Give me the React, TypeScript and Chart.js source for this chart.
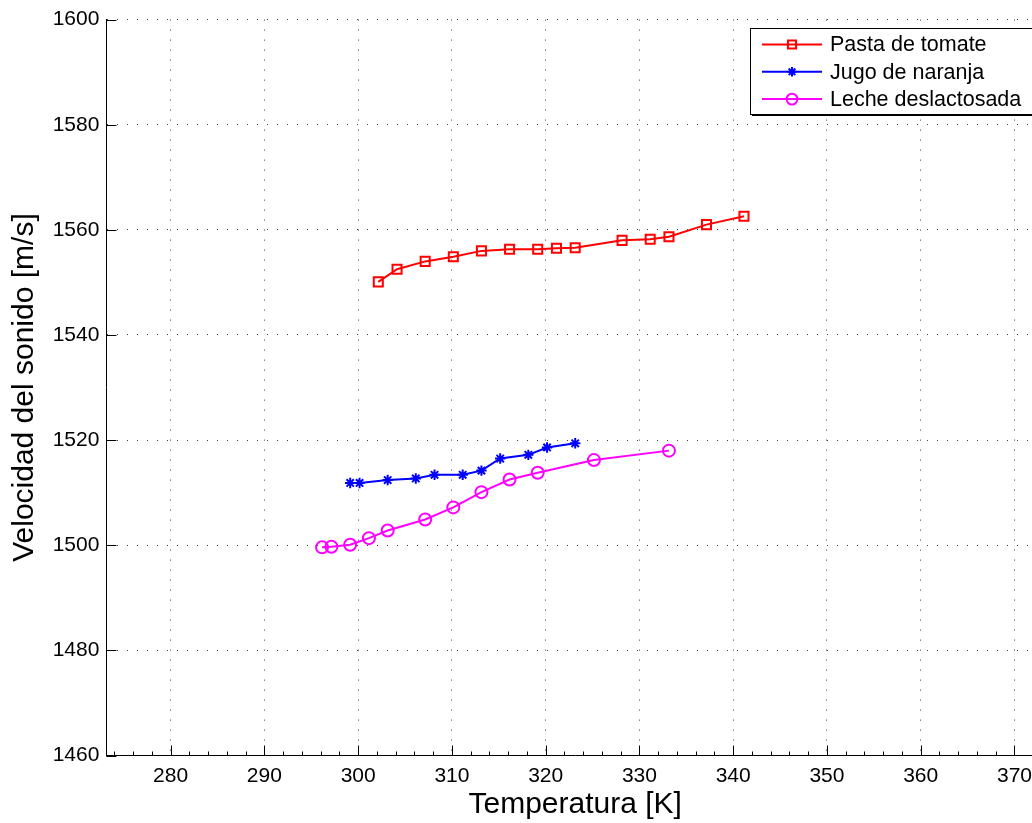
import React, { useEffect, useRef } from 'react';
import { Chart, registerables } from 'chart.js';
import { drawPoint } from 'chart.js/helpers';

Chart.register(...registerables);

const FONT = '"Liberation Sans", Arial, Helvetica, sans-serif';

// Tick values
const xTickValues = [280, 290, 300, 310, 320, 330, 340, 350, 360, 370];
const yTickValues = [1460, 1480, 1500, 1520, 1540, 1560, 1580, 1600];
const xMinorStep = 2;

// Series: Pasta de tomate
const pastaTemp = [302.15, 304.15, 307.15, 310.15, 313.15, 316.15, 319.15, 321.15, 323.15, 328.15, 331.15, 333.15, 337.15, 341.15];
const pastaVel = [1550.1, 1552.5, 1554.0, 1554.9, 1556.0, 1556.3, 1556.3, 1556.5, 1556.6, 1558.0, 1558.2, 1558.7, 1561.0, 1562.6];

// Series: Jugo de naranja
const jugoTemp = [299.15, 300.15, 303.15, 306.15, 308.15, 311.15, 313.15, 315.15, 318.15, 320.15, 323.15];
const jugoVel = [1511.85, 1511.85, 1512.4, 1512.7, 1513.4, 1513.4, 1514.2, 1516.5, 1517.2, 1518.6, 1519.4];

// Series: Leche deslactosada
const lecheTemp = [296.15, 297.15, 299.15, 301.15, 303.15, 307.15, 310.15, 313.15, 316.15, 319.15, 325.15, 333.15];
const lecheVel = [1499.6, 1499.7, 1500.1, 1501.35, 1502.8, 1504.9, 1507.2, 1510.1, 1512.5, 1513.8, 1516.2, 1518.0];

const seriesLabels = ['Pasta de tomate', 'Jugo de naranja', 'Leche deslactosada'];
const seriesColors = ['#ff0000', '#0000ff', '#ff00ff'];
const seriesMarkers = ['rect', 'star', 'circle'];
const seriesRadius = [6.4, 5.2, 6];

const xMin = 273.15;
const xMax = 373.15;
const yMin = 1460;
const yMax = 1600;

const toPoints = (xs: number[], ys: number[]) => xs.map((x, i) => ({ x, y: ys[i] }));

const ticksPlugin = {
  id: 'inwardTicks',
  afterDraw(chart: any) {
    const { ctx, chartArea } = chart;
    const { left, bottom, right } = chartArea;
    const xs = chart.scales.x;
    const ys = chart.scales.y;
    ctx.save();
    ctx.strokeStyle = '#000';
    ctx.lineWidth = 1;
    ctx.beginPath();
    xTickValues.forEach((v) => {
      const px = Math.round(xs.getPixelForValue(v)) + 0.5;
      ctx.moveTo(px, bottom);
      ctx.lineTo(px, bottom - 10);
    });
    for (let v = Math.ceil(xMin / xMinorStep) * xMinorStep; v <= xMax; v += xMinorStep) {
      if (v % 10 === 0) continue;
      const px = Math.round(xs.getPixelForValue(v)) + 0.5;
      if (px < left || px > right) continue;
      ctx.moveTo(px, bottom);
      ctx.lineTo(px, bottom - 4);
    }
    yTickValues.forEach((v) => {
      const py = Math.round(ys.getPixelForValue(v)) + 0.5;
      ctx.moveTo(left, py);
      ctx.lineTo(left + 10, py);
    });
    ctx.stroke();
    ctx.restore();
  },
};

const legendPlugin = {
  id: 'boxLegend',
  afterDraw(chart: any) {
    const ctx = chart.ctx;
    const x0 = 750;
    const y0 = 28;
    const w = 300;
    const h = 86;
    ctx.save();
    ctx.fillStyle = '#ffffff';
    ctx.fillRect(x0, y0, w, h);
    ctx.strokeStyle = '#000';
    ctx.lineWidth = 1;
    ctx.strokeRect(x0 + 0.5, y0 + 0.5, w, h);
    ctx.beginPath();
    ctx.moveTo(x0 + 2, y0 + h + 1.5);
    ctx.lineTo(x0 + w + 2, y0 + h + 1.5);
    ctx.stroke();
    chart.data.datasets.forEach((ds: any, i: number) => {
      const y = 44.5 + i * 27.3;
      ctx.strokeStyle = ds.borderColor;
      ctx.lineWidth = 2;
      ctx.setLineDash([]);
      ctx.beginPath();
      ctx.moveTo(762, y);
      ctx.lineTo(822, y);
      ctx.stroke();
      ctx.fillStyle = 'rgba(0,0,0,0)';
      ctx.strokeStyle = ds.borderColor;
      ctx.lineWidth = 2;
      drawPoint(ctx, { pointStyle: ds.pointStyle, radius: ds.pointRadius * 0.9, rotation: 0, borderWidth: 2 }, 792, y);
      ctx.fillStyle = '#000';
      ctx.font = `21.5px ${FONT}`;
      ctx.textAlign = 'left';
      ctx.textBaseline = 'middle';
      ctx.fillText(ds.label, 830, y + 1);
    });
    ctx.restore();
  },
};

export default function App() {
  const canvasRef = useRef<HTMLCanvasElement | null>(null);

  useEffect(() => {
    if (!canvasRef.current) return;
    const allSeries = [
      toPoints(pastaTemp, pastaVel),
      toPoints(jugoTemp, jugoVel),
      toPoints(lecheTemp, lecheVel),
    ];
    const chart = new Chart(canvasRef.current, {
      type: 'line',
      data: {
        datasets: allSeries.map((pts, i) => ({
          label: seriesLabels[i],
          data: pts,
          borderColor: seriesColors[i],
          backgroundColor: 'rgba(0,0,0,0)',
          borderWidth: 2,
          pointStyle: seriesMarkers[i] as any,
          pointRadius: seriesRadius[i],
          pointBorderWidth: 2,
          pointBorderColor: seriesColors[i],
          pointBackgroundColor: 'rgba(0,0,0,0)',
          tension: 0,
          fill: false,
        })),
      },
      options: {
        responsive: false,
        animation: false,
        events: [],
        layout: { padding: { top: 17.3, right: 16, left: 0, bottom: 0 } },
        plugins: {
          legend: { display: false },
          tooltip: { enabled: false },
        },
        scales: {
          x: {
            type: 'linear',
            min: xMin,
            max: xMax,
            afterBuildTicks: (scale: any) => {
              scale.ticks = xTickValues.map((v) => ({ value: v }));
            },
            afterFit: (scale: any) => {
              scale.height = 67.5;
            },
            grid: {
              color: 'rgba(0,0,0,0.75)',
              lineWidth: 1,
              drawTicks: false,
            },
            border: { display: true, color: '#000', width: 1, dash: [1, 9] },
            ticks: {
              color: '#000',
              font: { family: FONT, size: 21 },
              padding: 8,
              maxRotation: 0,
              autoSkip: false,
              callback: (v: any) => String(v),
            },
            title: {
              display: true,
              text: 'Temperatura [K]',
              color: '#000',
              font: { family: FONT, size: 30 },
              padding: { top: 0, bottom: 0 },
            },
          },
          y: {
            type: 'linear',
            min: yMin,
            max: yMax,
            afterBuildTicks: (scale: any) => {
              scale.ticks = yTickValues.map((v) => ({ value: v }));
            },
            afterFit: (scale: any) => {
              scale.width = 106.4;
            },
            grid: {
              color: 'rgba(0,0,0,0.75)',
              lineWidth: 1,
              drawTicks: false,
            },
            border: { display: true, color: '#000', width: 1, dash: [1, 9] },
            ticks: {
              color: '#000',
              font: { family: FONT, size: 21 },
              padding: 7,
              autoSkip: false,
              callback: (v: any) => String(v),
            },
            title: {
              display: true,
              text: 'Velocidad del sonido [m/s]',
              color: '#000',
              font: { family: FONT, size: 30 },
              padding: { top: 7, bottom: 0 },
            },
          },
        },
      } as any,
      plugins: [ticksPlugin, legendPlugin],
    });
    return () => chart.destroy();
  }, []);

  return (
    <div
      style={{
        position: 'absolute',
        left: 0,
        top: 0,
        width: 1032,
        height: 823,
        overflow: 'hidden',
        background: '#fff',
      }}
    >
      <canvas ref={canvasRef} width={1060} height={823} style={{ display: 'block' }} />
    </div>
  );
}
